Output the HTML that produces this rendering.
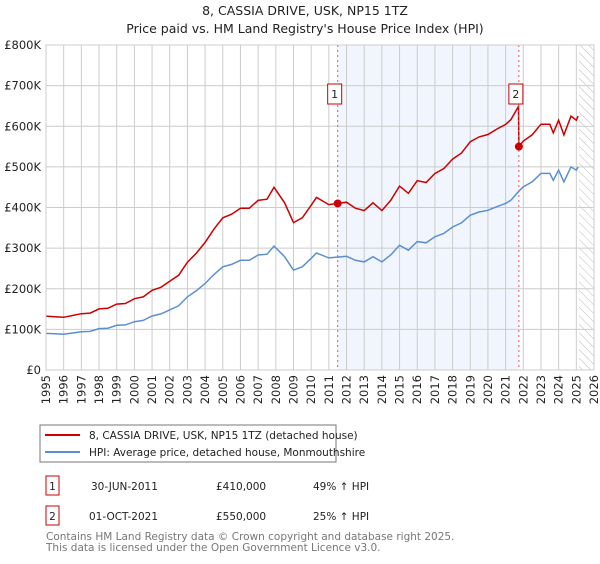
<!DOCTYPE html>
<html><head><meta charset="utf-8"><style>
body{margin:0;background:#fff;font-family:"DejaVu Sans","Liberation Sans",sans-serif;}
svg text{font-family:"DejaVu Sans","Liberation Sans",sans-serif;}
</style></head><body>
<svg id="c" width="600" height="560" viewBox="0 0 600 560" xmlns="http://www.w3.org/2000/svg">
<defs><pattern id="hatch" width="6" height="6" patternUnits="userSpaceOnUse" patternTransform="rotate(-45)"><rect width="6" height="6" fill="#fff"/><line x1="0" y1="0" x2="0" y2="6" stroke="#bbb" stroke-width="1"/></pattern></defs>
<text x="305" y="15" text-anchor="middle" font-size="12.5" fill="#222">8, CASSIA DRIVE, USK, NP15 1TZ</text>
<text x="305" y="33" text-anchor="middle" font-size="12.5" fill="#222">Price paid vs. HM Land Registry's House Price Index (HPI)</text>
<g id="plot"></g>
<rect x="40" y="425" width="296" height="37" fill="#fff" stroke="#777"/>
<line x1="45" y1="435" x2="80" y2="435" stroke="#cc0000" stroke-width="2"/>
<text x="89" y="439" font-size="10.5" fill="#222">8, CASSIA DRIVE, USK, NP15 1TZ (detached house)</text>
<line x1="45" y1="452" x2="80" y2="452" stroke="#5b8fd4" stroke-width="2"/>
<text x="89" y="456" font-size="10.5" fill="#222">HPI: Average price, detached house, Monmouthshire</text>
<rect x="46" y="476" width="13" height="19" fill="#fff" stroke="#cc0000"/>
<text x="52.5" y="490" text-anchor="middle" font-size="10.5" fill="#222">1</text>
<text x="91" y="490" font-size="10.5" fill="#222">30-JUN-2011</text>
<text x="216" y="490" font-size="10.5" fill="#222">£410,000</text>
<text x="313" y="490" font-size="10.5" fill="#222">49% ↑ HPI</text>
<rect x="46" y="506" width="13" height="19" fill="#fff" stroke="#cc0000"/>
<text x="52.5" y="520" text-anchor="middle" font-size="10.5" fill="#222">2</text>
<text x="89" y="520" font-size="10.5" fill="#222">01-OCT-2021</text>
<text x="216" y="520" font-size="10.5" fill="#222">£550,000</text>
<text x="313" y="520" font-size="10.5" fill="#222">25% ↑ HPI</text>
<text x="46" y="540" font-size="10.5" fill="#777">Contains HM Land Registry data © Crown copyright and database right 2025.</text>
<text x="46" y="551" font-size="10.5" fill="#777">This data is licensed under the Open Government Licence v3.0.</text>
</svg>
<script>
const hpiYears=[1995,1995.5,1996,1996.5,1997,1997.5,1998,1998.5,1999,1999.5,2000,2000.5,2001,2001.5,2002,2002.5,2003,2003.5,2004,2004.5,2005,2005.5,2006,2006.5,2007,2007.5,2007.9,2008.5,2009,2009.5,2010,2010.3,2011,2011.5,2012,2012.5,2013,2013.5,2014,2014.5,2015,2015.5,2016,2016.5,2017,2017.5,2018,2018.5,2019,2019.5,2020,2020.5,2021,2021.3,2021.75,2022,2022.5,2023,2023.5,2023.7,2024,2024.3,2024.7,2025,2025.1];
const hpiValues=[90,89,88,91,94,95,102,103,110,111,119,122,133,138,148,158,180,195,213,235,254,260,270,270,283,285,305,279,246,254,275,288,276,278,280,270,266,279,266,283,307,295,316,313,328,336,352,362,381,389,393,402,410,418,440,451,463,484,484,467,492,463,500,492,500];
const saleYears=[2011.5,2021.75];
const salePrices=[410,550];
const yTicks=[0,100,200,300,400,500,600,700,800];
const yTickLabels=["£0","£100K","£200K","£300K","£400K","£500K","£600K","£700K","£800K"];
const xTicks=[1995,1996,1997,1998,1999,2000,2001,2002,2003,2004,2005,2006,2007,2008,2009,2010,2011,2012,2013,2014,2015,2016,2017,2018,2019,2020,2021,2022,2023,2024,2025,2026];

const L=46,R=594,T=45,B=370;
const xs=y=>L+(y-1995)/31*(R-L);
const ys=v=>B-v/800*(B-T);
const g=document.getElementById('plot');
const NS='http://www.w3.org/2000/svg';
function mk(t,a){const e=document.createElementNS(NS,t);for(const k in a)e.setAttribute(k,a[k]);g.appendChild(e);return e;}
let e;
e=mk('rect',{x:xs(saleYears[0]),y:T,width:xs(saleYears[1])-xs(saleYears[0]),height:B-T,fill:'#eef3fc',opacity:0.8});


e=mk('rect',{x:xs(2025.15),y:T,width:R-xs(2025.15),height:B-T,fill:'url(#hatch)'});


xTicks.forEach(y=>{e=mk('line',{x1:xs(y),x2:xs(y),y1:T,y2:B,stroke:'#ccc','stroke-width':1});


const t=mk('text',{x:0,y:0,'font-size':11.5,fill:'#222','text-anchor':'end',transform:`translate(${xs(y)+4},${B+5}) rotate(-90)`});t.textContent=y;

});
yTicks.forEach((v,i)=>{e=mk('line',{x1:L,x2:R,y1:ys(v),y2:ys(v),stroke:'#ccc','stroke-width':1});


const t=mk('text',{x:L-5,y:ys(v)+4,'font-size':11.5,fill:'#222','text-anchor':'end'});t.textContent=yTickLabels[i];

});
const hp=hpiYears.map((y,i)=>xs(y).toFixed(1)+','+ys(hpiValues[i]).toFixed(1)).join(' ');
e=mk('polyline',{points:hp,fill:'none',stroke:'#5b8fd4','stroke-width':1.5});


const r1=salePrices[0]/278,r2=salePrices[1]/440;
const rp=[];hpiYears.forEach((y,i)=>{if(y<saleYears[1])rp.push([y,hpiValues[i]*r1]);});
rp.push([saleYears[1]-0.02,440*r1]);
hpiYears.forEach((y,i)=>{if(y>=saleYears[1])rp.push([y,hpiValues[i]*r2]);});
e=mk('polyline',{points:rp.map(p=>xs(p[0]).toFixed(1)+','+ys(p[1]).toFixed(1)).join(' '),fill:'none',stroke:'#cc0000','stroke-width':1.5});


saleYears.forEach((y,i)=>{
e=mk('line',{x1:xs(y),x2:xs(y),y1:T,y2:B,stroke:'#e55','stroke-width':1,'stroke-dasharray':'2,3'});


e=mk('circle',{cx:xs(y),cy:ys(salePrices[i]),r:4,fill:'#cc0000'});


e=mk('rect',{x:xs(y)-10,y:84,width:14,height:20,fill:'#fff',stroke:'#cc0000'});


const t=mk('text',{x:xs(y)-3,y:98,'font-size':11,'text-anchor':'middle',fill:'#222'});t.textContent=i+1;

});
e=mk('rect',{x:L,y:T,width:R-L,height:B-T,fill:'none',stroke:'#ccc'});


</script>
</body></html>
